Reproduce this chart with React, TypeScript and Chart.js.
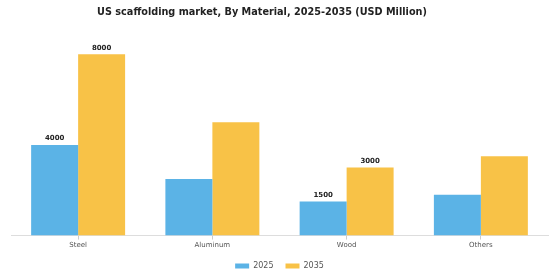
import React, { useEffect, useRef } from "react";
import { Chart, registerables } from "chart.js";

Chart.register(...registerables);

const categories = ["Steel", "Aluminum", "Wood", "Others"];
const values2025 = [4000, 2500, 1500, 1800];
const values2035 = [8000, 5000, 3000, 3500];
const labels2025: (string | null)[] = ["4000", null, "1500", null];
const labels2035: (string | null)[] = ["8000", null, "3000", null];
const seriesNames = ["2025", "2035"];
const titleText = "US scaffolding market, By Material, 2025-2035 (USD Million)";

const BLUE = "#5BB3E6";
const YELLOW = "#F8C247";

const valueLabelPlugin = {
  id: "valueLabels",
  afterDatasetsDraw(chart: any) {
    const ctx = chart.ctx;
    const sets = [labels2025, labels2035];
    ctx.save();
    ctx.font = "bold 7px 'DejaVu Sans'";
    ctx.fillStyle = "#222";
    ctx.textAlign = "center";
    ctx.textBaseline = "bottom";
    chart.data.datasets.forEach((_: any, di: number) => {
      const meta = chart.getDatasetMeta(di);
      meta.data.forEach((bar: any, i: number) => {
        const t = sets[di][i];
        if (t) ctx.fillText(t, bar.x, bar.y - 3);
      });
    });
    ctx.restore();
  },
};

const titlePlugin = {
  id: "offsetTitle",
  afterDraw(chart: any) {
    const ctx = chart.ctx;
    ctx.save();
    ctx.font = "bold 9.7px 'DejaVu Sans'";
    ctx.fillStyle = "#222";
    ctx.textAlign = "center";
    ctx.textBaseline = "middle";
    ctx.fillText(titleText, 262, 12);
    ctx.restore();
  },
};

export default function App() {
  const ref = useRef<HTMLCanvasElement | null>(null);
  useEffect(() => {
    if (!ref.current) return;
    const chart = new Chart(ref.current, {
      type: "bar",
      data: {
        labels: categories,
        datasets: [
          { label: seriesNames[0], data: values2025, backgroundColor: BLUE, borderWidth: 0 },
          { label: seriesNames[1], data: values2035, backgroundColor: YELLOW, borderWidth: 0 },
        ],
      },
      options: {
        animation: false,
        responsive: false,
        maintainAspectRatio: false,
        layout: { padding: { left: 11, right: 12, top: 31.6, bottom: 0 } },
        datasets: { bar: { categoryPercentage: 0.7, barPercentage: 1.0 } },
        plugins: {
          title: { display: false },
          legend: {
            position: "bottom",
            labels: {
              boxWidth: 14,
              boxHeight: 5,
              padding: 12,
              color: "#555",
              font: { family: "'DejaVu Sans'", size: 8 },
            },
          },
          tooltip: { enabled: false },
        },
        scales: {
          x: {
            grid: { display: true, drawOnChartArea: false, offset: false, tickLength: 4, color: "#ccc" },
            border: { display: true, color: "#ddd" },
            ticks: { color: "#555", font: { family: "'DejaVu Sans'", size: 7 }, padding: 1 },
          },
          y: {
            display: false,
            min: 0,
            max: 9000,
          },
        },
      },
      plugins: [valueLabelPlugin, titlePlugin],
    });
    return () => chart.destroy();
  }, []);
  return (
    <div style={{ position: "fixed", left: 0, top: 0, width: 560, height: 280, background: "#fff" }}>
      <canvas ref={ref} width={560} height={280} style={{ width: 560, height: 280 }} />
    </div>
  );
}
